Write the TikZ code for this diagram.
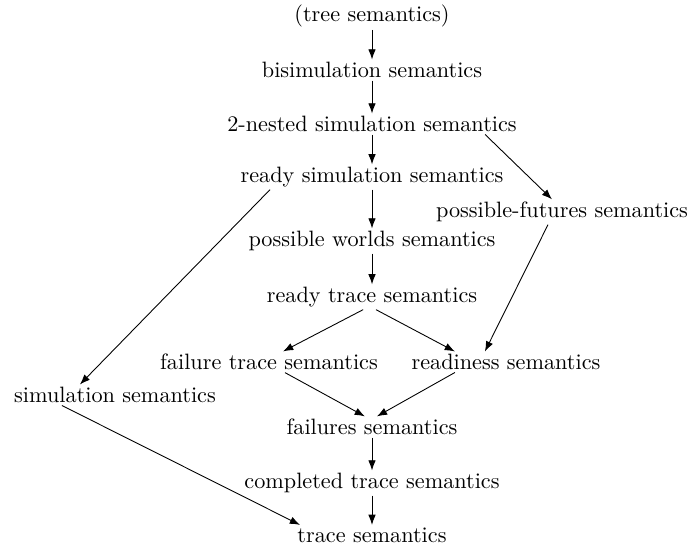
\documentclass[tikz,border=0pt]{standalone}
\usepackage{tikz}
\usetikzlibrary{arrows.meta}

\begin{document}
\begin{tikzpicture}[
x=0.45pt, y=-0.45pt,
sem/.style={inner sep=1pt},
arr/.style={-{Latex[length=4.6pt,width=3.4pt]}}
]
\useasboundingbox (0,0) rectangle (692,546);

% main column
\node[sem] (tree) at (372,16) {(tree semantics)};
\node[sem] (bisim) at (372,70) {bisimulation semantics};
\node[sem] (nested) at (372,124) {2-nested simulation semantics};
\node[sem] (rsim) at (372,177) {ready simulation semantics};
\node[sem] (pworlds) at (372,241) {possible worlds semantics};
\node[sem] (rtrace) at (372,297) {ready trace semantics};
\node[sem] (fail) at (372,427) {failures semantics};
\node[sem] (ctrace) at (372,483) {completed trace semantics};
\node[sem] (trace) at (372,535) {trace semantics};

% side nodes
\node[sem] (pfut) at (562,212) {possible-futures semantics};
\node[sem] (ftrace) at (269,362) {failure trace semantics};
\node[sem] (ready) at (506,362) {readiness semantics};
\node[sem] (sim) at (115,395) {simulation semantics};

\draw[arr] (tree) -- (bisim);
\draw[arr] (bisim) -- (nested);
\draw[arr] (nested) -- (rsim);
\draw[arr] (rsim) -- (pworlds);
\draw[arr] (pworlds) -- (rtrace);
\draw[arr] (fail) -- (ctrace);
\draw[arr] (ctrace) -- (trace);

\draw[arr] ([xshift=50.9pt]nested.south) -- ([xshift=-4.5pt]pfut.north);
\draw[arr] ([xshift=-45.9pt]rsim.south) -- ([xshift=-15.8pt]sim.north);
\draw[arr] ([xshift=-6.3pt]pfut.south) -- ([xshift=-9.5pt]ready.north);
\draw[arr] ([xshift=-4pt]rtrace.south) -- ([xshift=6.3pt]ftrace.north);
\draw[arr] ([xshift=1.8pt]rtrace.south) -- ([xshift=-23pt]ready.north);
\draw[arr] ([xshift=7.2pt]ftrace.south) -- ([xshift=-3.2pt]fail.north);
\draw[arr] ([xshift=-23pt]ready.south) -- ([xshift=2.2pt]fail.north);
\draw[arr] ([xshift=-23.9pt]sim.south) -- ([xshift=-32.4pt]trace.north);
\end{tikzpicture}
\end{document}
